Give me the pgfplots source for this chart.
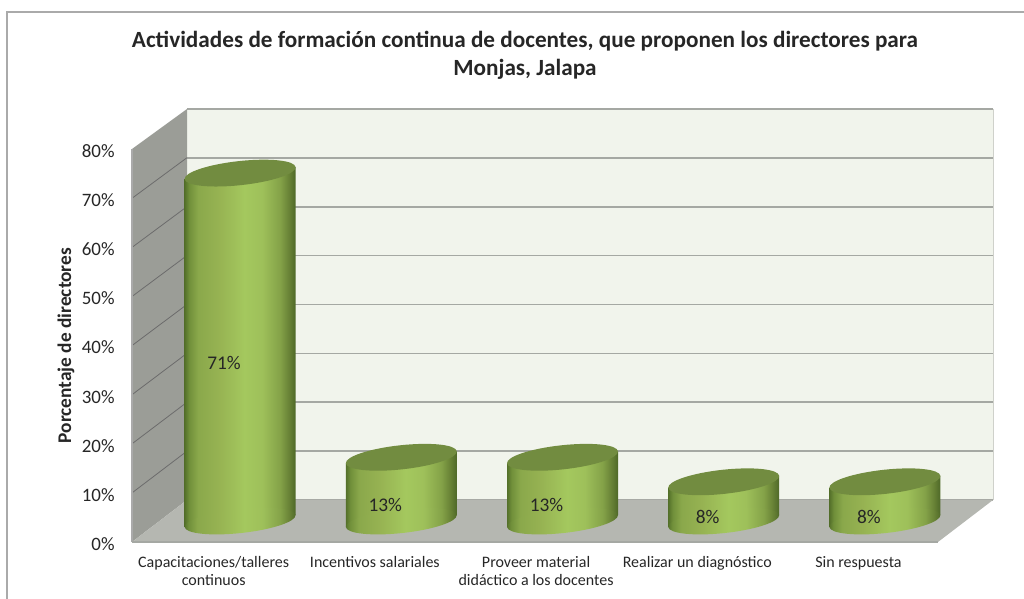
\documentclass[border=0pt]{standalone}
\usepackage{fontspec}
\setmainfont{Carlito}
\usepackage{pgfplots}
\pgfplotsset{compat=1.18}

\definecolor{txt}{RGB}{38,38,38}
\definecolor{backwall}{RGB}{241,244,236}
\definecolor{sidewall}{RGB}{155,157,151}
\definecolor{floorc}{RGB}{181,183,177}
\definecolor{gridc}{RGB}{165,168,163}
\definecolor{capc}{RGB}{114,140,64}
\definecolor{framec}{RGB}{170,170,170}

% bbox of the path goes from 25bp to 75bp
\pgfdeclarehorizontalshading{cylbody}{100bp}{
  color(0bp)=(rgb,255:red,84;green,112;blue,42);
  color(25bp)=(rgb,255:red,84;green,112;blue,42);
  color(27bp)=(rgb,255:red,112;green,143;blue,58);
  color(31bp)=(rgb,255:red,138;green,168;blue,75);
  color(40bp)=(rgb,255:red,150;green,178;blue,82);
  color(52bp)=(rgb,255:red,164;green,200;blue,94);
  color(60bp)=(rgb,255:red,158;green,192;blue,90);
  color(68bp)=(rgb,255:red,132;green,162;blue,72);
  color(72bp)=(rgb,255:red,104;green,130;blue,54);
  color(75bp)=(rgb,255:red,78;green,104;blue,40);
  color(100bp)=(rgb,255:red,78;green,104;blue,40)}

\pgfdeclareplotmark{cyltop}{%
  \pgfpathellipse{\pgfpointorigin}{\pgfqpoint{41.6pt}{4.5pt}}{\pgfqpoint{-0.9pt}{9pt}}%
  \pgfusepathqfill}
\pgfdeclareplotmark{cylbase}{%
  \pgfpathellipse{\pgfpointorigin}{\pgfqpoint{41.6pt}{4.5pt}}{\pgfqpoint{-0.9pt}{9pt}}%
  \pgfshadepath{cylbody}{0}%
  \pgfusepath{discard}}

\pgfplotsset{
  plane/.style={scale only axis, width=604.5pt, xmin=-0.5, xmax=4.5, ymin=0, ymax=80, clip=false},
  % sheared so that the bar's ends follow the tilt of the ellipses
  cyl/.style={ybar, bar width=83.25pt, bar shift=0pt, draw=none, shade, shading=cylbody,
    cm={1,0.108,0,1,(0pt,{-0.108*#1})}},
}

\begin{document}
\begin{tikzpicture}
\begin{scope}[x=0.75pt,y=-0.75pt,yshift=449.25pt]
\path[use as bounding box] (0,0) rectangle (1024,599);
\draw[framec,line width=0.9pt] (7,599) -- (7,12) -- (1024,12);
\end{scope}

% back wall
\begin{axis}[plane, at={(140.25pt,74.25pt)}, anchor=south west, height=293.25pt,
    axis background/.style={fill=backwall},
    axis line style={draw=none}, xtick=\empty, ytick={0,10,...,80}, yticklabels={},
    major tick length=0pt, ymajorgrids,
    grid style={gridc,line width=1.25pt}]
\end{axis}

% side wall and floor
\begin{scope}[x=0.75pt,y=-0.75pt,yshift=449.25pt]
\fill[sidewall] (132,149) -- (187,109) -- (187,500) -- (132,542) -- cycle;
\fill[floorc] (132,542) -- (187,500) -- (993,500) -- (938,542) -- cycle;
\foreach \k in {1,...,7}
  \draw[gray!85!black,line width=0.6pt] (132,{542-49.1*\k}) -- (187,{500-48.9*\k});
\draw[framec,line width=0.8pt] (132,149) -- (132,542);
\draw[gridc,line width=1.25pt] (132,542) -- (938,542);
\draw[backwall!70!gray,line width=0.6pt] (993,109) -- (993,500);
\end{scope}

% front plane, holds the labels
\begin{axis}[plane, at={(99pt,42.75pt)}, anchor=south west, height=294.75pt,
    axis line style={draw=none}, major tick length=0pt,
    /pgf/number format/assume math mode=true,
    ytick={0,10,...,80}, yticklabel={\pgfmathprintnumber{\tick}\%},
    yticklabel style={font=\fontsize{14.2}{16}\selectfont, text=txt, xshift=-9.5pt, yshift=-1.5pt},
    xtick={0,1,2,3,4},
    xticklabels={{Capacitaciones/talleres\\continuos},{Incentivos salariales},{Proveer material\\didáctico a los docentes},{Realizar un diagnóstico},{Sin respuesta}},
    xticklabel style={font=\fontsize{12}{13.5}\selectfont, text=txt, align=center, anchor=north, yshift=-7.6pt, xshift=0.8pt},
    ylabel={Porcentaje de directores},
    ylabel style={at={(axis description cs:-0.0819,0.5)}, anchor=center, font=\bfseries\fontsize{14.5}{16}\selectfont, text=txt},
    title={Actividades de formación continua de docentes, que proponen los directores para\\Monjas, Jalapa},
    title style={at={(axis description cs:0.4876,1.217)}, anchor=center, align=center, font=\bfseries\fontsize{17.4}{21}\selectfont, text=txt}]
\end{axis}

% mid plane, holds the cylinders
\begin{axis}[plane, at={(119.625pt,58.5pt)}, anchor=south west, height=294pt, hide axis]
\addplot[only marks, mark=cylbase] coordinates {(0,0) (1,0) (2,0) (3,0) (4,0)};
\addplot[cyl=60.45pt] coordinates {(0,71)};
\addplot[cyl=181.35pt] coordinates {(1,13)};
\addplot[cyl=302.25pt] coordinates {(2,13)};
\addplot[cyl=423.15pt] coordinates {(3,8)};
\addplot[cyl=544.05pt] coordinates {(4,8)};
\addplot[only marks, mark=cyltop, mark options={draw=none, fill=capc}]
  coordinates {(0,71) (1,13) (2,13) (3,8) (4,8)};
\addplot[draw=none, nodes near coords, point meta=explicit symbolic,
    every node near coord/.style={anchor=center, xshift=-12pt, yshift=-11.6pt,
      font=\fontsize{14.5}{16}\selectfont, text=txt}]
  coordinates {(0,35.5)[71\%] (1,6.5)[13\%] (2,6.5)[13\%] (3,4)[8\%] (4,4)[8\%]};
\end{axis}
\end{tikzpicture}
\end{document}
